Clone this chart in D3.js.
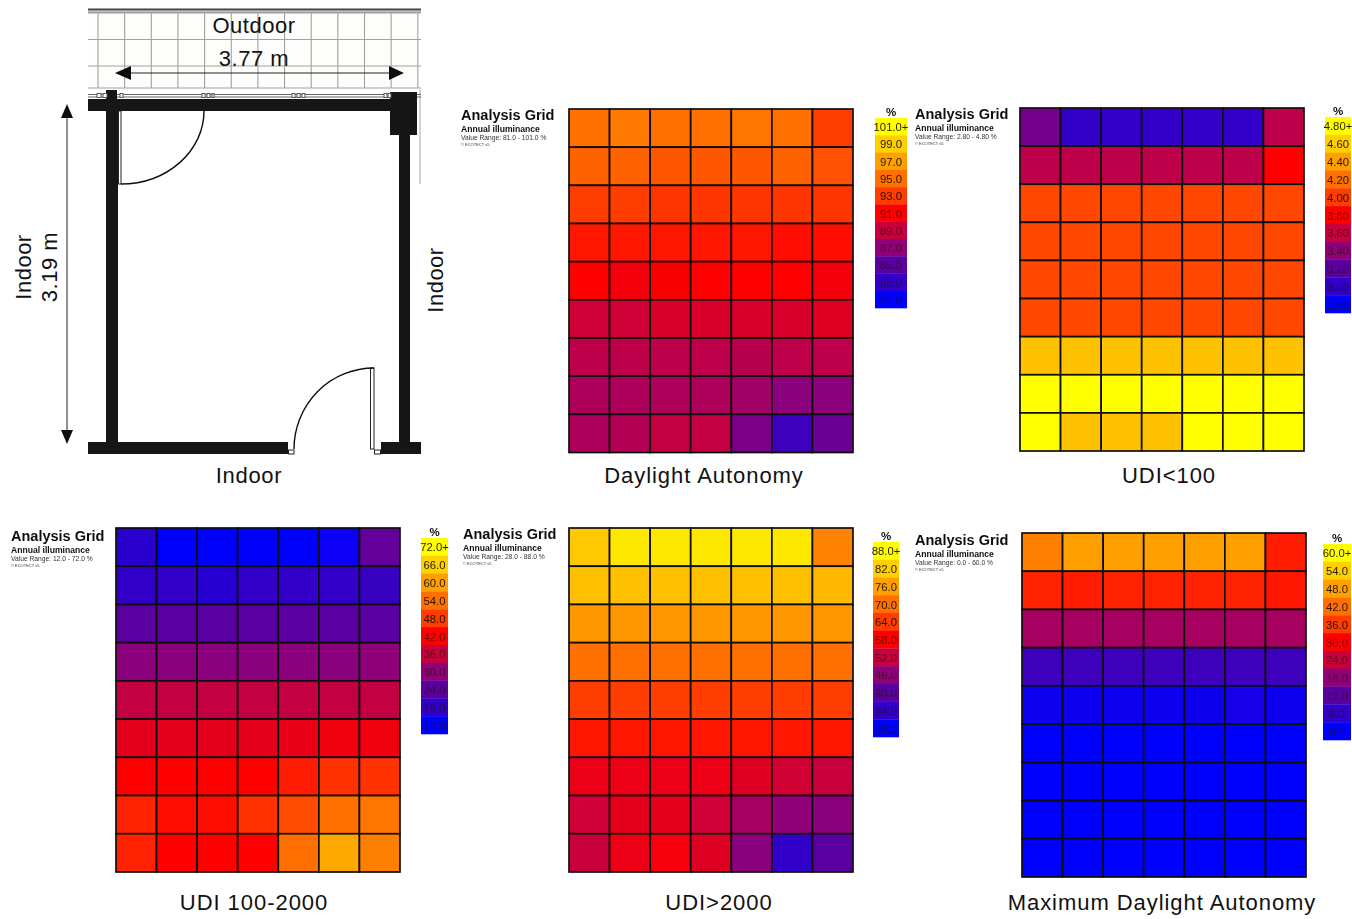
<!DOCTYPE html>
<html><head><meta charset="utf-8">
<script src="https://cdn.jsdelivr.net/npm/d3@7"></script>
<style>html,body{margin:0;background:#fff}svg{display:block;font-family:"Liberation Sans",Arial,sans-serif}</style>
</head><body><svg id="c" width="1352" height="919"></svg>
<script>
// Cell values (rows top to bottom, % in each panel's own range)
const daValues = [
 [95.0,95.4,95.0,95.0,95.2,95.0,93.0],
 [94.5,94.5,94.0,94.0,94.0,94.5,93.8],
 [93.0,93.0,92.8,92.8,92.8,92.8,92.8],
 [91.8,91.8,91.6,91.6,91.6,91.4,91.4],
 [91.0,90.6,90.8,91.0,91.0,91.0,90.6],
 [89.2,89.2,89.6,89.6,89.6,89.6,89.8],
 [88.6,88.6,88.6,88.6,88.4,88.6,88.6],
 [88.0,88.0,88.0,88.0,87.6,86.8,86.8],
 [88.0,88.2,88.8,88.8,86.2,83.6,85.6]];
const udiLowValues = [
 [3.30,3.00,3.00,3.00,3.00,3.00,3.56],
 [3.56,3.56,3.56,3.56,3.56,3.56,3.80],
 [4.04,4.04,4.04,4.04,4.04,4.04,4.04],
 [4.04,4.04,4.04,4.04,4.04,4.04,4.04],
 [4.04,4.04,4.04,4.04,4.04,4.04,4.04],
 [4.04,4.04,4.04,4.04,4.04,4.04,4.04],
 [4.54,4.54,4.54,4.54,4.54,4.54,4.54],
 [4.80,4.80,4.80,4.80,4.80,4.80,4.80],
 [4.80,4.54,4.54,4.54,4.80,4.80,4.80]];
const udiMidValues = [
 [17.4,12.0,12.0,12.5,12.0,13.0,25.0],
 [18.0,18.0,17.0,18.0,18.0,18.0,19.0],
 [24.0,24.0,24.0,24.0,24.0,24.0,24.0],
 [29.4,29.4,29.4,29.4,29.4,29.4,30.0],
 [35.4,35.4,35.4,35.4,35.4,35.4,35.4],
 [39.0,39.0,39.0,39.0,39.6,40.5,40.5],
 [42.0,42.0,42.0,42.6,45.0,46.8,47.0],
 [45.6,43.0,43.0,46.8,50.0,54.0,54.6],
 [45.6,42.6,42.0,42.6,54.0,61.0,56.0]];
const udiHighValues = [
 [81.0,85.0,85.0,85.0,85.0,85.0,72.4],
 [80.0,80.0,80.0,80.0,80.0,80.0,79.0],
 [75.0,75.0,75.0,75.0,75.0,75.0,75.0],
 [70.0,70.0,70.0,70.0,70.0,70.0,70.0],
 [64.0,64.0,64.0,64.0,64.0,64.0,64.0],
 [60.0,60.0,60.0,60.0,60.0,60.0,60.0],
 [56.0,56.0,56.0,56.0,54.4,53.0,52.0],
 [52.6,55.0,55.0,52.6,48.4,46.0,45.4],
 [52.0,56.0,57.0,54.4,45.4,34.0,40.0]];
const maxDaValues = [
 [44.0,48.0,48.0,48.0,48.0,48.0,33.0],
 [33.6,33.0,33.6,33.6,33.6,33.6,32.0],
 [20.4,20.4,20.4,20.4,20.4,20.4,20.4],
 [8.0,8.0,8.0,8.0,8.0,8.0,8.0],
 [1.5,1.5,1.5,1.5,2.0,2.5,1.5],
 [0,0,0,0,0,0,0],
 [0,0,0,0,0,0,0],
 [0,0,0,0,0,0,0],
 [0,0,0,0,0,0,0]];
const daTicks = ["101.0+","99.0","97.0","95.0","93.0","91.0","89.0","87.0","85.0","83.0","81.0"];
const udiLowTicks = ["4.80+","4.60","4.40","4.20","4.00","3.80","3.60","3.40","3.20","3.00","2.80"];
const udiMidTicks = ["72.0+","66.0","60.0","54.0","48.0","42.0","36.0","30.0","24.0","18.0","12.0"];
const udiHighTicks = ["88.0+","82.0","76.0","70.0","64.0","58.0","52.0","46.0","40.0","34.0","28.0"];
const maxDaTicks = ["60.0+","54.0","48.0","42.0","36.0","30.0","24.0","18.0","12.0","6.0","0.0"];
const rangeLabels = ["Value Range: 81.0 - 101.0 %","Value Range: 2.80 - 4.80 %","Value Range: 12.0 - 72.0 %","Value Range: 28.0 - 88.0 %","Value Range: 0.0 - 60.0 %"];
const paletteStops = ["#0000ff","#3000c8","#5a00a0","#900078","#c8003c","#ff0000","#ff3c00","#ff7000","#ffa000","#ffd000","#ffff00"];

const panels = [
 {title:"Daylight Autonomy",tx:704,ty:483,v:daValues,d:[81,101],ticks:daTicks,r:rangeLabels[0],x:[569,853],y:[109,452.5],lx:[875,907],ly:[118,308],ax:461,ay:120},
 {title:"UDI<100",tx:1169,ty:483,v:udiLowValues,d:[2.8,4.8],ticks:udiLowTicks,r:rangeLabels[1],x:[1020,1304],y:[108,451],lx:[1325,1351],ly:[117,313],ax:915,ay:119},
 {title:"UDI 100-2000",tx:254,ty:910,v:udiMidValues,d:[12,72],ticks:udiMidTicks,r:rangeLabels[2],x:[116,400],y:[528,872],lx:[421,448],ly:[538,734],ax:11,ay:541},
 {title:"UDI>2000",tx:719,ty:910,v:udiHighValues,d:[28,88],ticks:udiHighTicks,r:rangeLabels[3],x:[569,853],y:[528,872],lx:[873,899],ly:[542,737],ax:463,ay:539},
 {title:"Maximum Daylight Autonomy",tx:1162,ty:910,v:maxDaValues,d:[0,60],ticks:maxDaTicks,r:rangeLabels[4],x:[1022,1306],y:[533,877],lx:[1323,1351],ly:[544,740],ax:915,ay:545}
];

const svg = d3.select("#c");
const soft = svg.append("defs").append("filter").attr("id","soft").attr("filterUnits","userSpaceOnUse")
  .attr("x",0).attr("y",0).attr("width",1352).attr("height",919);
soft.append("feGaussianBlur").attr("stdDeviation",0.5);

const text=(g,x,y,s,size,opt={})=>g.append("text").attr("x",x).attr("y",y).text(s).attr("font-size",size)
  .attr("text-anchor",opt.anchor||"start").attr("font-weight",opt.weight||"normal").attr("fill",opt.fill||"#111")
  .attr("letter-spacing",opt.ls||0).attr("transform",opt.rot?`rotate(-90 ${x} ${y})`:null).attr("opacity",opt.op==null?1:opt.op);

panels.forEach(p=>{
  const g = svg.append("g").attr("filter","url(#soft)");
  const color = d3.scaleLinear().domain(d3.range(11).map(i=>p.d[0]+(p.d[1]-p.d[0])*i/10)).range(paletteStops).clamp(true);
  const xs = d3.scaleBand().domain(d3.range(7)).range(p.x);
  const ys = d3.scaleBand().domain(d3.range(9)).range(p.y);
  g.selectAll(null).data(p.v.flatMap((row,r)=>row.map((v,c)=>({v,r,c})))).join("rect")
    .attr("x",d=>xs(d.c)).attr("y",d=>ys(d.r)).attr("width",xs.bandwidth()).attr("height",ys.bandwidth())
    .attr("fill",d=>color(d.v)).attr("stroke","#0d0d0d").attr("stroke-width",1.7);
  const ls = d3.scaleBand().domain(p.ticks).range(p.ly);
  const step=(p.d[1]-p.d[0])/10;
  g.selectAll(null).data(p.ticks).join("rect")
    .attr("x",p.lx[0]).attr("y",d=>ls(d)).attr("width",p.lx[1]-p.lx[0]).attr("height",ls.bandwidth()+.3)
    .attr("fill",(d,i)=>color(p.d[1]-i*step));
  g.selectAll(null).data(p.ticks).join("text").text(d=>d)
    .attr("x",(p.lx[0]+p.lx[1])/2).attr("y",d=>ls(d)+ls.bandwidth()/2+4.5).attr("text-anchor","middle")
    .attr("font-size",11.3).attr("fill","#1c1200").attr("opacity",(d,i)=>i<5?0.95:0.6);
  text(g,(p.lx[0]+p.lx[1])/2,p.ly[0]-2.5,"%",11.5,{anchor:"middle",weight:"bold"});
  text(g,p.ax,p.ay,"Analysis Grid",14.5,{weight:"bold"});
  text(g,p.ax,p.ay+12,"Annual illuminance",8.6,{weight:"bold"});
  text(g,p.ax,p.ay+20,p.r,6.7,{fill:"#333"});
  text(g,p.ax,p.ay+26,"© ECOTECT v5",4,{fill:"#333"});
  text(svg,p.tx,p.ty,p.title,22,{anchor:"middle",ls:0.95});
});

// Floor plan
const plan = svg.append("g").attr("filter","url(#soft)");
const wall="#171712";
const rect=(x,y,w,h,f,s)=>plan.append("rect").attr("x",x).attr("y",y).attr("width",w).attr("height",h).attr("fill",f||wall).attr("stroke",s||"none").attr("stroke-width",s?1:0);
const line=(x1,y1,x2,y2,c,w)=>plan.append("line").attr("x1",x1).attr("y1",y1).attr("x2",x2).attr("y2",y2).attr("stroke",c).attr("stroke-width",w);
rect(88,13,333,75,"#fdfdfb");
d3.range(13).forEach(i=>line(98+i*26.65,13,98+i*26.65,88,"#a2a29c",1.1));
[13,39.5,66,88].forEach(y=>line(88,y,421,y,"#a2a29c",1.1));
rect(88,8.5,333,2,"#444"); rect(88,11.5,333,1,"#777");
line(420,90,420,184,"#a5a5a0",1);
rect(88,94,333,1,"#666"); rect(88,96.5,333,1,"#666");
rect(88,99,302,12); rect(106,90,11,21); rect(390,92,27,43);
rect(106,111,12,335); rect(399,135,11,311);
rect(88,442,200,12); rect(381,442,40,12);
[[97,4],[103,4],[120,3],[202,3],[207,3],[212,2],[292,3],[297,3],[302,3],[384,3],[388,3]].forEach(d=>rect(d[0],93.5,d[1],4,"#fff","#555"));
rect(118.5,111,2.5,73,"#fff","#222");
rect(370.5,368,3.5,81,"#fff","#222");
rect(288.5,450,5.5,4,"#fff","#222"); rect(374.5,450,6,4,"#fff","#222");
plan.append("path").attr("d","M121,184 A83,73 0 0 0 204,111").attr("fill","none").attr("stroke","#111").attr("stroke-width",1.4);
plan.append("path").attr("d","M294,449 A80,81 0 0 1 374,368").attr("fill","none").attr("stroke","#111").attr("stroke-width",1.4);
line(125,73,395,73,"#222",1); line(67,112,67,436,"#222",1);
plan.append("path").attr("fill","#111").attr("d","M115,73 L131,66 L131,80 Z M404,73 L389,66 L389,80 Z M67,104 L61,118 L73,118 Z M67,444 L61,430 L73,430 Z");
text(svg,254,33,"Outdoor",22,{anchor:"middle",ls:0.5});
text(svg,254,66,"3.77 m",22,{anchor:"middle",ls:0.5});
text(svg,249,483,"Indoor",22,{anchor:"middle",ls:0.7});
text(svg,31,267,"Indoor",22,{anchor:"middle",rot:true,ls:0.5});
text(svg,57,267,"3.19 m",22,{anchor:"middle",rot:true,ls:0.5});
text(svg,443,280,"Indoor",22,{anchor:"middle",rot:true,ls:0.5});
</script></body></html>
